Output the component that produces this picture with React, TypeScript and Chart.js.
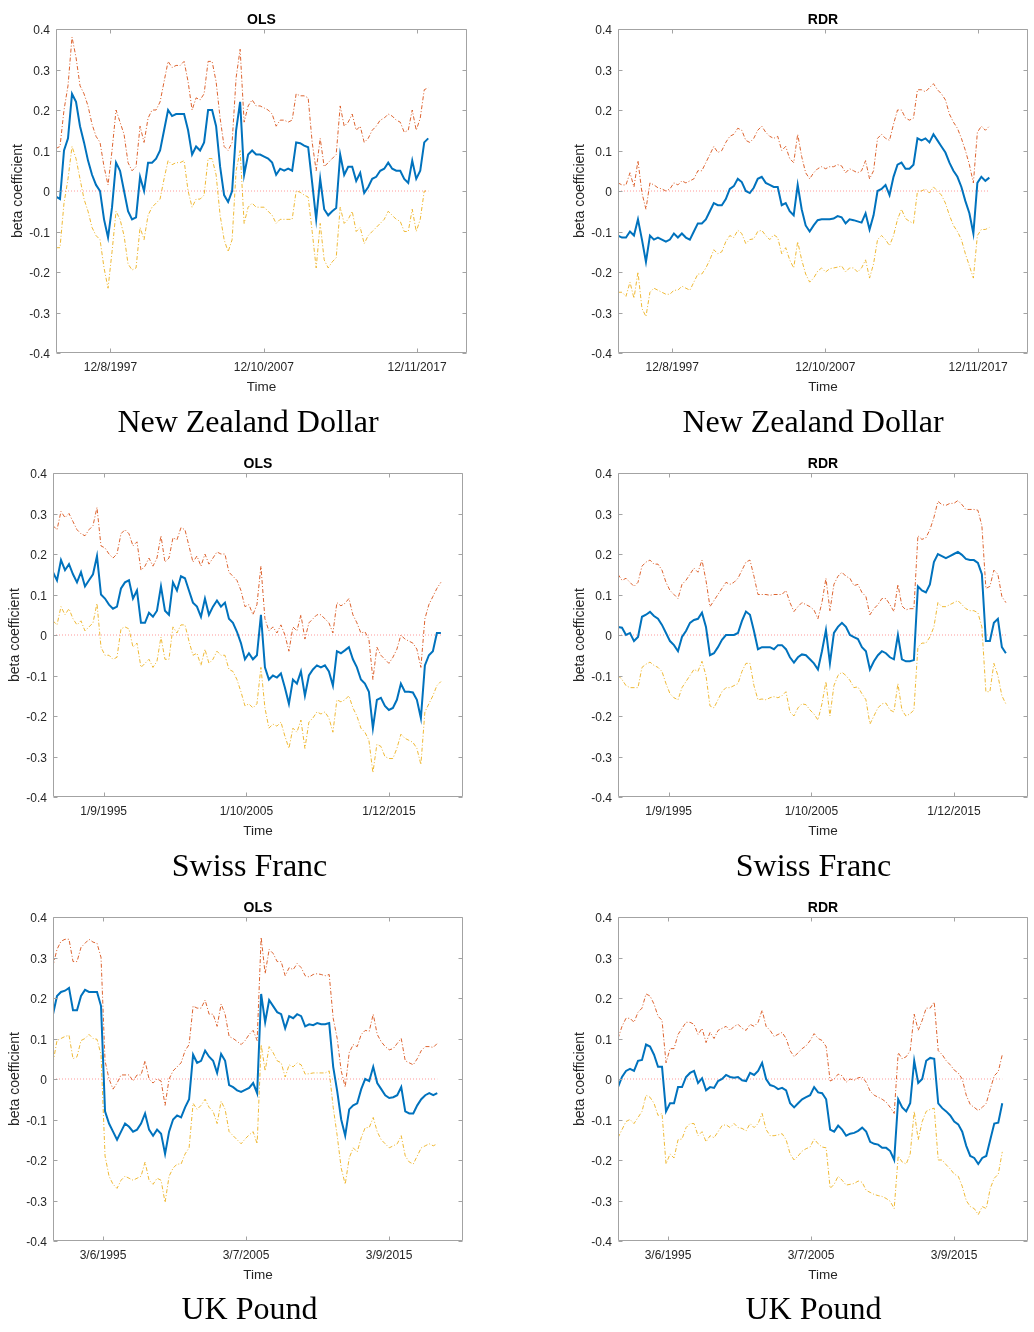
import React, { useEffect, useRef } from 'react';
import { Chart, registerables } from 'chart.js';

Chart.register(...registerables);

// ---------------- data ----------------
// New Zealand Dollar — OLS
const nzdOlsBeta = [-0.014,-0.02,0.10,0.13,0.24,0.22,0.16,0.12,0.075,0.04,0.015,0.0,-0.07,-0.115,-0.04,0.07,0.05,0.0,-0.05,-0.07,-0.065,0.035,0.0,0.07,0.07,0.08,0.10,0.15,0.2,0.185,0.19,0.19,0.19,0.15,0.09,0.11,0.10,0.12,0.2,0.2,0.16,0.06,-0.01,-0.027,0.0,0.15,0.22,0.04,0.09,0.1,0.09,0.09,0.085,0.08,0.07,0.04,0.055,0.05,0.055,0.05,0.12,0.118,0.112,0.108,0.02,-0.07,0.03,-0.045,-0.06,-0.05,-0.042,0.09,0.04,0.06,0.06,0.025,0.045,-0.005,0.01,0.03,0.035,0.05,0.055,0.07,0.055,0.05,0.05,0.03,0.02,0.075,0.03,0.05,0.12,0.13];
const nzdOlsUpper = [0.105,0.11,0.2,0.26,0.38,0.33,0.26,0.24,0.21,0.165,0.135,0.12,0.06,0.015,0.1,0.2,0.17,0.14,0.07,0.05,0.06,0.16,0.12,0.18,0.2,0.2,0.22,0.27,0.32,0.305,0.31,0.31,0.32,0.27,0.2,0.23,0.225,0.24,0.32,0.32,0.27,0.18,0.11,0.1,0.12,0.28,0.35,0.17,0.21,0.225,0.21,0.21,0.205,0.2,0.19,0.16,0.175,0.175,0.17,0.175,0.24,0.235,0.235,0.23,0.12,0.05,0.13,0.06,0.07,0.08,0.09,0.21,0.16,0.17,0.19,0.15,0.16,0.12,0.13,0.15,0.16,0.175,0.18,0.19,0.185,0.175,0.17,0.145,0.15,0.2,0.15,0.18,0.25,0.255];
const nzdOlsLower = [-0.14,-0.14,-0.03,0.03,0.11,0.08,0.03,-0.02,-0.05,-0.09,-0.11,-0.12,-0.19,-0.24,-0.15,-0.05,-0.07,-0.11,-0.18,-0.195,-0.19,-0.09,-0.12,-0.06,-0.04,-0.03,-0.02,0.03,0.075,0.065,0.07,0.07,0.075,0.0,-0.04,-0.02,-0.02,-0.01,0.08,0.08,0.04,-0.06,-0.12,-0.15,-0.12,0.05,0.1,-0.08,-0.04,-0.03,-0.04,-0.04,-0.04,-0.05,-0.06,-0.08,-0.07,-0.07,-0.07,-0.07,0.0,-0.003,-0.01,-0.015,-0.1,-0.19,-0.08,-0.17,-0.19,-0.175,-0.165,-0.04,-0.08,-0.07,-0.05,-0.1,-0.09,-0.13,-0.11,-0.1,-0.09,-0.08,-0.07,-0.05,-0.06,-0.07,-0.075,-0.1,-0.1,-0.045,-0.1,-0.07,0.0,0.0];

// New Zealand Dollar — RDR
const nzdRdrBeta = [-0.11,-0.115,-0.115,-0.1,-0.11,-0.07,-0.12,-0.175,-0.11,-0.12,-0.115,-0.12,-0.125,-0.12,-0.105,-0.115,-0.105,-0.115,-0.12,-0.1,-0.08,-0.08,-0.07,-0.05,-0.03,-0.035,-0.035,-0.02,0.005,0.012,0.03,0.022,0.0,-0.005,0.008,0.03,0.035,0.02,0.015,0.01,0.01,-0.035,-0.03,-0.05,-0.06,0.015,-0.045,-0.085,-0.1,-0.085,-0.072,-0.07,-0.07,-0.07,-0.068,-0.062,-0.065,-0.08,-0.07,-0.072,-0.075,-0.078,-0.055,-0.095,-0.06,0.0,0.005,0.015,-0.01,0.035,0.065,0.07,0.055,0.055,0.065,0.13,0.125,0.13,0.12,0.14,0.125,0.11,0.095,0.07,0.05,0.035,0.01,-0.025,-0.055,-0.105,0.02,0.035,0.025,0.033];
const nzdRdrUpper = [0.02,0.015,0.015,0.045,0.01,0.075,-0.005,-0.045,0.02,0.015,0.008,0.005,0.0,0.005,0.02,0.015,0.025,0.02,0.025,0.03,0.05,0.05,0.07,0.09,0.11,0.095,0.1,0.12,0.135,0.14,0.155,0.15,0.125,0.12,0.13,0.15,0.16,0.145,0.135,0.13,0.135,0.1,0.11,0.08,0.07,0.14,0.085,0.045,0.03,0.045,0.055,0.06,0.055,0.06,0.06,0.065,0.062,0.045,0.055,0.05,0.045,0.05,0.075,0.03,0.05,0.13,0.14,0.13,0.125,0.165,0.2,0.2,0.18,0.175,0.18,0.25,0.25,0.245,0.255,0.265,0.25,0.24,0.225,0.19,0.17,0.155,0.13,0.1,0.065,0.02,0.145,0.16,0.15,0.16];
const nzdRdrLower = [-0.25,-0.25,-0.26,-0.225,-0.265,-0.2,-0.29,-0.31,-0.25,-0.24,-0.245,-0.25,-0.255,-0.255,-0.245,-0.245,-0.235,-0.24,-0.245,-0.225,-0.205,-0.205,-0.19,-0.17,-0.145,-0.155,-0.15,-0.125,-0.11,-0.115,-0.097,-0.105,-0.13,-0.12,-0.118,-0.1,-0.097,-0.11,-0.12,-0.108,-0.115,-0.155,-0.14,-0.17,-0.19,-0.125,-0.17,-0.205,-0.225,-0.215,-0.198,-0.19,-0.2,-0.192,-0.19,-0.188,-0.185,-0.2,-0.19,-0.19,-0.2,-0.19,-0.17,-0.215,-0.18,-0.12,-0.11,-0.12,-0.135,-0.11,-0.07,-0.045,-0.068,-0.075,-0.08,0.0,0.0,0.005,-0.005,0.01,0.0,-0.01,-0.03,-0.06,-0.085,-0.1,-0.12,-0.155,-0.185,-0.215,-0.11,-0.095,-0.095,-0.09];

// Swiss Franc — OLS
const chfOlsBeta = [0.155,0.135,0.185,0.16,0.175,0.15,0.13,0.155,0.12,0.135,0.15,0.195,0.1,0.09,0.075,0.065,0.07,0.115,0.13,0.135,0.09,0.11,0.03,0.03,0.055,0.045,0.06,0.12,0.06,0.05,0.13,0.11,0.145,0.14,0.11,0.08,0.07,0.045,0.09,0.05,0.07,0.085,0.07,0.08,0.04,0.03,0.008,-0.02,-0.06,-0.045,-0.06,-0.05,0.05,-0.08,-0.11,-0.1,-0.105,-0.095,-0.13,-0.17,-0.11,-0.12,-0.09,-0.15,-0.1,-0.085,-0.075,-0.08,-0.075,-0.09,-0.125,-0.04,-0.045,-0.038,-0.03,-0.06,-0.08,-0.11,-0.12,-0.14,-0.23,-0.16,-0.155,-0.175,-0.185,-0.18,-0.16,-0.12,-0.14,-0.14,-0.142,-0.16,-0.205,-0.075,-0.05,-0.04,0.005,0.005];
const chfOlsUpper = [0.27,0.26,0.305,0.29,0.3,0.28,0.26,0.25,0.245,0.26,0.27,0.315,0.22,0.215,0.2,0.19,0.2,0.25,0.26,0.25,0.22,0.23,0.16,0.17,0.19,0.17,0.19,0.245,0.18,0.19,0.24,0.235,0.265,0.26,0.22,0.18,0.195,0.17,0.2,0.175,0.19,0.205,0.2,0.2,0.155,0.145,0.135,0.11,0.07,0.075,0.05,0.075,0.17,0.04,0.01,0.02,0.005,0.025,0.0,-0.04,0.02,0.01,0.05,-0.01,0.03,0.04,0.05,0.05,0.04,0.03,0.005,0.08,0.072,0.078,0.09,0.05,0.03,0.005,0.008,-0.01,-0.11,-0.03,-0.05,-0.06,-0.07,-0.055,-0.035,0.0,-0.01,-0.015,-0.02,-0.035,-0.08,0.04,0.075,0.095,0.115,0.13];
const chfOlsLower = [0.035,0.025,0.07,0.05,0.065,0.04,0.025,0.035,0.01,0.02,0.03,0.078,-0.03,-0.05,-0.05,-0.06,-0.055,0.015,0.02,0.015,-0.03,-0.02,-0.08,-0.07,-0.06,-0.08,-0.065,-0.005,-0.06,-0.06,0.02,0.005,0.025,0.025,-0.015,-0.05,-0.045,-0.075,-0.035,-0.07,-0.06,-0.04,-0.05,-0.05,-0.085,-0.09,-0.11,-0.14,-0.175,-0.17,-0.18,-0.17,-0.08,-0.18,-0.23,-0.22,-0.225,-0.215,-0.25,-0.28,-0.23,-0.24,-0.21,-0.28,-0.215,-0.205,-0.19,-0.195,-0.19,-0.205,-0.24,-0.16,-0.165,-0.16,-0.15,-0.18,-0.2,-0.23,-0.24,-0.26,-0.34,-0.27,-0.275,-0.3,-0.305,-0.305,-0.28,-0.245,-0.255,-0.26,-0.265,-0.28,-0.32,-0.19,-0.17,-0.15,-0.125,-0.115];

// Swiss Franc — RDR
const chfRdrBeta = [0.02,0.018,0.0,0.005,-0.015,-0.005,0.045,0.05,0.057,0.047,0.04,0.025,0.005,-0.015,-0.025,-0.04,-0.005,0.01,0.03,0.037,0.04,0.055,0.02,-0.05,-0.045,-0.03,-0.012,0.0,0.0,0.0,0.005,0.035,0.058,0.05,0.01,-0.035,-0.03,-0.03,-0.03,-0.035,-0.025,-0.025,-0.035,-0.055,-0.068,-0.055,-0.048,-0.05,-0.06,-0.07,-0.085,-0.04,0.012,-0.07,0.005,0.02,0.03,0.02,0.0,-0.005,-0.01,-0.03,-0.04,-0.085,-0.065,-0.05,-0.04,-0.045,-0.055,-0.06,0.0,-0.06,-0.065,-0.065,-0.062,0.12,0.11,0.105,0.125,0.18,0.2,0.195,0.19,0.195,0.2,0.205,0.198,0.188,0.185,0.185,0.178,0.15,-0.015,-0.015,0.03,0.04,-0.03,-0.045];
const chfRdrUpper = [0.15,0.135,0.14,0.13,0.12,0.13,0.17,0.18,0.185,0.175,0.175,0.16,0.13,0.11,0.1,0.09,0.125,0.135,0.15,0.165,0.155,0.185,0.135,0.07,0.085,0.1,0.115,0.13,0.125,0.13,0.14,0.16,0.18,0.185,0.145,0.1,0.1,0.1,0.098,0.1,0.1,0.1,0.11,0.08,0.058,0.07,0.08,0.075,0.07,0.062,0.04,0.08,0.14,0.06,0.125,0.145,0.155,0.145,0.14,0.122,0.125,0.105,0.095,0.05,0.065,0.075,0.09,0.09,0.075,0.058,0.125,0.072,0.062,0.065,0.065,0.245,0.236,0.24,0.26,0.29,0.33,0.322,0.32,0.325,0.325,0.332,0.322,0.31,0.31,0.31,0.308,0.27,0.115,0.12,0.16,0.15,0.095,0.08];
const chfRdrLower = [-0.1,-0.11,-0.125,-0.13,-0.13,-0.13,-0.08,-0.072,-0.067,-0.075,-0.08,-0.09,-0.12,-0.145,-0.155,-0.16,-0.13,-0.115,-0.1,-0.085,-0.09,-0.065,-0.1,-0.175,-0.18,-0.16,-0.14,-0.13,-0.13,-0.125,-0.12,-0.09,-0.07,-0.07,-0.125,-0.16,-0.158,-0.16,-0.155,-0.152,-0.155,-0.15,-0.14,-0.19,-0.2,-0.18,-0.17,-0.172,-0.185,-0.195,-0.21,-0.17,-0.115,-0.2,-0.125,-0.1,-0.092,-0.1,-0.112,-0.13,-0.128,-0.145,-0.16,-0.22,-0.2,-0.18,-0.17,-0.168,-0.185,-0.19,-0.12,-0.185,-0.2,-0.195,-0.185,-0.03,-0.02,-0.02,-0.005,0.02,0.08,0.07,0.07,0.075,0.08,0.085,0.075,0.065,0.06,0.06,0.055,0.02,-0.14,-0.14,-0.07,-0.1,-0.15,-0.17];

// UK Pound — OLS
const gbpOlsBeta = [0.16,0.205,0.215,0.218,0.225,0.17,0.17,0.205,0.22,0.215,0.215,0.215,0.18,-0.08,-0.11,-0.13,-0.15,-0.13,-0.11,-0.118,-0.13,-0.125,-0.11,-0.085,-0.125,-0.14,-0.125,-0.135,-0.185,-0.13,-0.1,-0.09,-0.095,-0.07,-0.05,0.06,0.04,0.045,0.07,0.055,0.045,0.015,0.062,0.045,-0.015,-0.02,-0.028,-0.032,-0.027,-0.022,-0.01,-0.035,0.21,0.14,0.195,0.18,0.165,0.16,0.125,0.155,0.15,0.16,0.155,0.13,0.135,0.133,0.138,0.135,0.135,0.138,0.03,-0.03,-0.1,-0.14,-0.075,-0.065,-0.06,-0.025,0.0,-0.005,0.03,-0.01,-0.025,-0.04,-0.047,-0.045,-0.04,-0.02,-0.08,-0.085,-0.085,-0.065,-0.05,-0.04,-0.035,-0.04,-0.035];
const gbpOlsUpper = [0.28,0.32,0.34,0.345,0.345,0.29,0.29,0.325,0.335,0.345,0.338,0.335,0.3,0.045,0.0,-0.025,-0.01,0.01,0.01,0.01,-0.005,0.01,0.01,0.045,0.0,-0.01,0.0,-0.005,-0.065,0.0,0.02,0.03,0.04,0.07,0.085,0.18,0.175,0.175,0.195,0.16,0.16,0.13,0.185,0.16,0.105,0.1,0.093,0.085,0.095,0.11,0.12,0.095,0.35,0.26,0.32,0.31,0.29,0.29,0.255,0.275,0.27,0.285,0.275,0.255,0.252,0.258,0.26,0.258,0.255,0.258,0.15,0.1,0.02,-0.02,0.065,0.085,0.08,0.11,0.12,0.118,0.16,0.11,0.092,0.08,0.072,0.075,0.088,0.1,0.045,0.04,0.035,0.05,0.07,0.08,0.08,0.078,0.088];
const gbpOlsLower = [0.04,0.095,0.1,0.105,0.108,0.05,0.055,0.095,0.1,0.11,0.1,0.098,0.06,-0.19,-0.24,-0.26,-0.27,-0.25,-0.24,-0.245,-0.25,-0.245,-0.24,-0.205,-0.25,-0.26,-0.245,-0.25,-0.305,-0.24,-0.22,-0.21,-0.21,-0.185,-0.17,-0.06,-0.075,-0.065,-0.05,-0.07,-0.08,-0.11,-0.055,-0.075,-0.13,-0.14,-0.15,-0.16,-0.148,-0.138,-0.13,-0.16,0.085,0.02,0.08,0.065,0.045,0.04,0.005,0.035,0.03,0.04,0.035,0.012,0.013,0.015,0.015,0.015,0.015,0.02,-0.07,-0.14,-0.22,-0.26,-0.195,-0.17,-0.18,-0.145,-0.12,-0.12,-0.095,-0.13,-0.15,-0.16,-0.17,-0.165,-0.16,-0.14,-0.19,-0.205,-0.21,-0.19,-0.17,-0.165,-0.16,-0.165,-0.16];

// UK Pound — RDR
const gbpRdrBeta = [-0.02,0.005,0.02,0.025,0.02,0.045,0.047,0.085,0.08,0.06,0.03,0.03,-0.08,-0.06,-0.06,-0.02,-0.02,0.005,0.015,0.02,-0.01,0.002,-0.028,-0.02,-0.022,-0.005,0.0,0.01,0.005,0.003,0.005,-0.003,-0.005,0.015,0.01,0.02,0.04,0.0,-0.015,-0.018,-0.025,-0.022,-0.028,-0.06,-0.07,-0.06,-0.05,-0.045,-0.04,-0.02,-0.033,-0.035,-0.05,-0.125,-0.13,-0.115,-0.125,-0.14,-0.135,-0.133,-0.128,-0.12,-0.13,-0.155,-0.16,-0.162,-0.17,-0.17,-0.178,-0.2,-0.05,-0.07,-0.08,-0.06,0.045,-0.01,0.0,0.045,0.052,0.05,-0.06,-0.072,-0.08,-0.09,-0.105,-0.112,-0.13,-0.165,-0.19,-0.195,-0.21,-0.195,-0.19,-0.15,-0.11,-0.108,-0.06];
const gbpRdrUpper = [0.1,0.13,0.15,0.15,0.14,0.165,0.175,0.21,0.205,0.185,0.155,0.145,0.04,0.075,0.075,0.11,0.125,0.14,0.14,0.135,0.11,0.125,0.09,0.115,0.1,0.12,0.125,0.13,0.12,0.13,0.135,0.125,0.12,0.135,0.13,0.14,0.17,0.13,0.12,0.105,0.11,0.115,0.1,0.07,0.055,0.065,0.075,0.082,0.095,0.112,0.1,0.095,0.08,-0.005,0.0,0.012,0.008,-0.008,0.0,-0.003,0.003,0.005,-0.008,-0.03,-0.04,-0.045,-0.05,-0.057,-0.07,-0.085,0.065,0.05,0.055,0.07,0.16,0.12,0.145,0.175,0.175,0.19,0.07,0.06,0.045,0.035,0.022,0.015,0.0,-0.04,-0.063,-0.07,-0.078,-0.07,-0.06,-0.025,0.008,0.018,0.06];
const gbpRdrLower = [-0.145,-0.125,-0.105,-0.1,-0.11,-0.095,-0.08,-0.04,-0.045,-0.06,-0.09,-0.085,-0.21,-0.185,-0.195,-0.15,-0.148,-0.12,-0.11,-0.11,-0.14,-0.13,-0.155,-0.14,-0.145,-0.13,-0.115,-0.113,-0.12,-0.11,-0.12,-0.122,-0.128,-0.11,-0.12,-0.11,-0.085,-0.125,-0.14,-0.14,-0.138,-0.135,-0.15,-0.185,-0.2,-0.19,-0.178,-0.172,-0.168,-0.148,-0.16,-0.168,-0.17,-0.27,-0.26,-0.24,-0.25,-0.262,-0.26,-0.258,-0.252,-0.255,-0.275,-0.28,-0.285,-0.288,-0.29,-0.295,-0.302,-0.32,-0.19,-0.205,-0.21,-0.185,-0.08,-0.15,-0.105,-0.08,-0.075,-0.072,-0.2,-0.2,-0.212,-0.222,-0.235,-0.24,-0.265,-0.3,-0.315,-0.32,-0.335,-0.315,-0.32,-0.27,-0.245,-0.235,-0.18];

// sampling dates (decimal years): first observation and spacing of the rolling estimates
const nzdFirstDate = 1994.38;
const nzdDateStep = 0.2612;
const chfFirstDate = 1991.47;
const chfDateStep = 0.2804;
const gbpFirstDate = 1991.68;
const gbpDateStep = 0.28;

// x-axis ranges and tick labels
const nzdRange = [1994.38, 2021.2];
const chfRange = [1991.47, 2020.22];
const gbpRange = [1991.68, 2020.36];
const nzdTickDates = [1997.93, 2007.94, 2017.94];
const nzdTickLabels = ['12/8/1997', '12/10/2007', '12/11/2017'];
const chfTickDates = [1995.02, 2005.03, 2015.03];
const chfTickLabels = ['1/9/1995', '1/10/2005', '1/12/2015'];
const gbpTickDates = [1995.18, 2005.18, 2015.19];
const gbpTickLabels = ['3/6/1995', '3/7/2005', '3/9/2015'];

// y-axis ticks
const yTickValues = [-0.4, -0.3, -0.2, -0.1, 0, 0.1, 0.2, 0.3, 0.4];
const yTickLabels = ['-0.4', '-0.3', '-0.2', '-0.1', '0', '0.1', '0.2', '0.3', '0.4'];
const zeroLine = [0, 0];

const methodTitles = ['OLS', 'RDR'];
const currencyNames = ['New Zealand Dollar', 'Swiss Franc', 'UK Pound'];

// ---------------- styling / layout ----------------
const SANS = '"Liberation Sans", Arial, Helvetica, sans-serif';
const SERIF = '"Liberation Serif", "Times New Roman", serif';
const TEXT = '#262626';
const FRAME = '#a3a3a3';
const PAD_L = 50;
const PAD_T = 29;
const PAD_R = 5;
const PAD_B = 52;

function buildDates(first: number, step: number, n: number) {
  const out: number[] = [];
  for (let i = 0; i < n; i++) out.push(first + i * step);
  return out;
}

type PanelSpec = {
  title: string;
  left: number;
  top: number;
  width: number;
  height: number;
  dates: number[];
  beta: number[];
  upper: number[];
  lower: number[];
  range: number[];
  tickDates: number[];
  tickLabels: string[];
};

const nzdDates = buildDates(nzdFirstDate, nzdDateStep, nzdOlsBeta.length);
const chfDates = buildDates(chfFirstDate, chfDateStep, chfOlsBeta.length);
const gbpDates = buildDates(gbpFirstDate, gbpDateStep, gbpOlsBeta.length);

const panels: PanelSpec[] = [
  { title: methodTitles[0], left: 56, top: 29, width: 411, height: 324, dates: nzdDates, beta: nzdOlsBeta, upper: nzdOlsUpper, lower: nzdOlsLower, range: nzdRange, tickDates: nzdTickDates, tickLabels: nzdTickLabels },
  { title: methodTitles[1], left: 618, top: 29, width: 410, height: 324, dates: nzdDates, beta: nzdRdrBeta, upper: nzdRdrUpper, lower: nzdRdrLower, range: nzdRange, tickDates: nzdTickDates, tickLabels: nzdTickLabels },
  { title: methodTitles[0], left: 53, top: 473, width: 410, height: 324, dates: chfDates, beta: chfOlsBeta, upper: chfOlsUpper, lower: chfOlsLower, range: chfRange, tickDates: chfTickDates, tickLabels: chfTickLabels },
  { title: methodTitles[1], left: 618, top: 473, width: 410, height: 324, dates: chfDates, beta: chfRdrBeta, upper: chfRdrUpper, lower: chfRdrLower, range: chfRange, tickDates: chfTickDates, tickLabels: chfTickLabels },
  { title: methodTitles[0], left: 53, top: 917, width: 410, height: 324, dates: gbpDates, beta: gbpOlsBeta, upper: gbpOlsUpper, lower: gbpOlsLower, range: gbpRange, tickDates: gbpTickDates, tickLabels: gbpTickLabels },
  { title: methodTitles[1], left: 618, top: 917, width: 410, height: 324, dates: gbpDates, beta: gbpRdrBeta, upper: gbpRdrUpper, lower: gbpRdrLower, range: gbpRange, tickDates: gbpTickDates, tickLabels: gbpTickLabels },
];

const captions = [
  { text: currencyNames[0], cx: 248, baseline: 432 },
  { text: currencyNames[0], cx: 813, baseline: 432 },
  { text: currencyNames[1], cx: 249.5, baseline: 876 },
  { text: currencyNames[1], cx: 813.5, baseline: 876 },
  { text: currencyNames[2], cx: 249.5, baseline: 1319 },
  { text: currencyNames[2], cx: 813.5, baseline: 1319 },
];

function framePlugin(title: string, tickDates: number[]) {
  return {
    id: 'matlabFrame',
    afterDraw(chart: any) {
      const { ctx, chartArea: a, scales } = chart;
      const xs = scales.x;
      const ys = scales.y;
      const L = Math.round(a.left) + 0.5;
      const R = Math.round(a.right) - 0.5;
      const T = Math.round(a.top) + 0.5;
      const B = Math.round(a.bottom) - 0.5;
      ctx.save();
      ctx.strokeStyle = FRAME;
      ctx.lineWidth = 1;
      ctx.beginPath();
      ctx.rect(L, T, R - L, B - T);
      const tl = 4;
      for (const v of yTickValues) {
        const py = Math.round(ys.getPixelForValue(v)) + 0.5;
        ctx.moveTo(L, py); ctx.lineTo(L + tl, py);
        ctx.moveTo(R, py); ctx.lineTo(R - tl, py);
      }
      for (const v of tickDates) {
        const px = Math.round(xs.getPixelForValue(v)) + 0.5;
        ctx.moveTo(px, B); ctx.lineTo(px, B - tl);
        ctx.moveTo(px, T); ctx.lineTo(px, T + tl);
      }
      ctx.stroke();
      ctx.fillStyle = '#000';
      ctx.font = `bold 14px ${SANS}`;
      ctx.textAlign = 'center';
      ctx.textBaseline = 'alphabetic';
      ctx.fillText(title, (a.left + a.right) / 2, a.top - 5);
      ctx.restore();
    },
  };
}

function PanelChart({ p }: { p: PanelSpec }) {
  const ref = useRef<HTMLCanvasElement>(null);
  const cw = PAD_L + p.width + PAD_R;
  const ch = PAD_T + p.height + PAD_B;
  useEffect(() => {
    const canvas = ref.current;
    if (!canvas) return;
    const pts = (ys: number[]) => ys.map((y, i) => ({ x: p.dates[i], y }));
    const last = p.dates[p.beta.length - 1];
    const chart = new Chart(canvas, {
      type: 'line',
      data: {
        datasets: [
          { label: 'beta', data: pts(p.beta), borderColor: '#0072BD', borderWidth: 2, pointRadius: 0, tension: 0, order: 0 },
          { label: 'upper', data: pts(p.upper), borderColor: 'rgba(217,83,25,0.9)', borderWidth: 1, borderDash: [4, 2, 1, 2], pointRadius: 0, tension: 0, order: 2 },
          { label: 'lower', data: pts(p.lower), borderColor: 'rgba(237,177,32,0.9)', borderWidth: 1, borderDash: [4, 2, 1, 2], pointRadius: 0, tension: 0, order: 3 },
          { label: 'zero', data: [{ x: p.dates[0], y: zeroLine[0] }, { x: last, y: zeroLine[1] }], borderColor: 'rgba(255,70,70,0.55)', borderWidth: 1, borderDash: [1, 2], pointRadius: 0, order: 1 },
        ],
      } as any,
      options: {
        responsive: false,
        animation: false,
        devicePixelRatio: 1,
        events: [],
        layout: { padding: { top: PAD_T, right: PAD_R, left: 0, bottom: 0 } },
        plugins: { legend: { display: false }, tooltip: { enabled: false }, title: { display: false } },
        scales: {
          x: {
            type: 'linear',
            min: p.range[0],
            max: p.range[1],
            afterBuildTicks: (s: any) => { s.ticks = p.tickDates.map((v) => ({ value: v })); },
            afterFit: (s: any) => { s.height = PAD_B; },
            grid: { display: false, drawTicks: false },
            border: { display: false },
            ticks: {
              autoSkip: false, maxRotation: 0, minRotation: 0, padding: 7.5,
              color: TEXT, font: { family: SANS, size: 12 },
              callback: (_v: any, i: number) => p.tickLabels[i],
            },
            title: { display: true, text: 'Time', color: TEXT, font: { family: SANS, size: 13.5 }, padding: { top: 0, bottom: 10 } },
          },
          y: {
            type: 'linear',
            min: -0.4,
            max: 0.4,
            afterBuildTicks: (s: any) => { s.ticks = yTickValues.map((v) => ({ value: v })); },
            afterFit: (s: any) => { s.width = PAD_L; },
            grid: { display: false, drawTicks: false },
            border: { display: false },
            ticks: {
              padding: 6, labelOffset: 2, color: TEXT, font: { family: SANS, size: 12 },
              callback: (_v: any, i: number) => yTickLabels[i],
            },
            title: { display: true, text: 'beta coefficient', color: TEXT, font: { family: SANS, size: 14 }, padding: { top: 4, bottom: 0 } },
          },
        },
      } as any,
      plugins: [framePlugin(p.title, p.tickDates)],
    });
    return () => chart.destroy();
  }, []);
  return (
    <canvas
      ref={ref}
      width={cw}
      height={ch}
      style={{ position: 'absolute', left: p.left - PAD_L, top: p.top - PAD_T, width: cw, height: ch, display: 'block' }}
    />
  );
}

export default function App() {
  return (
    <div style={{ position: 'absolute', left: 0, top: 0, width: 1034, height: 1332, background: '#fff', overflow: 'hidden' }}>
      {panels.map((p, i) => <PanelChart key={i} p={p} />)}
      {captions.map((c, i) => (
        <div
          key={'c' + i}
          style={{
            position: 'absolute', left: c.cx - 200, width: 400, top: c.baseline - 27,
            textAlign: 'center', fontFamily: SERIF, fontSize: 32, lineHeight: '32px', color: '#000', whiteSpace: 'nowrap',
          }}
        >
          {c.text}
        </div>
      ))}
    </div>
  );
}
